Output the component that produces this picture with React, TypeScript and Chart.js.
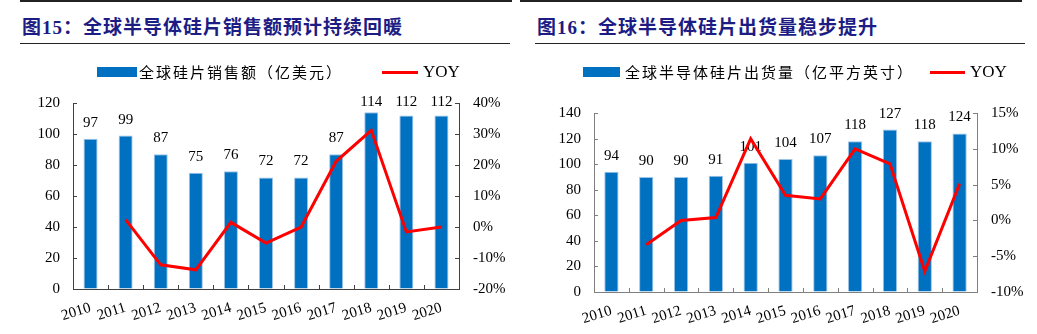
import React, { useEffect, useRef } from "react";
import { Chart, registerables } from "chart.js";

Chart.register(...registerables);

// ---------- data ----------
const YEARS = ["2010", "2011", "2012", "2013", "2014", "2015", "2016", "2017", "2018", "2019", "2020"];

const SALES = [97, 99, 87, 75, 76, 72, 72, 87, 114, 112, 112];
const SALES_YOY = [null, 2.4, -12.2, -13.8, 1.5, -5.2, 0.0, 21.2, 31.2, -1.6, 0.0];

const SHIPMENTS = [94, 90, 90, 91, 101, 104, 107, 118, 127, 118, 124];
const SHIPMENTS_YOY = [null, -3.4, 0.0, 0.4, 11.4, 3.5, 3.0, 10.0, 7.9, -7.1, 5.1];

const SALES_LABEL = "全球硅片销售额（亿美元）";
const SHIPMENTS_LABEL = "全球半导体硅片出货量（亿平方英寸）";
const YOY_LABEL = "YOY";

const TITLE_LEFT = "图15：全球半导体硅片销售额预计持续回暖";
const TITLE_RIGHT = "图16：全球半导体硅片出货量稳步提升";

const BAR_COLOR = "#0070C0";
const BAR_EDGE = "#9DC3E6";
const LINE_COLOR = "#FF0000";
const TITLE_COLOR = "#1c1c84";
const SERIF = "'Liberation Serif', 'Times New Roman', serif";
const CJK = "'Noto Sans CJK SC', sans-serif";

type PanelCfg = {
  bars: number[];
  yoy: (number | null)[];
  yMax: number;
  yStep: number;
  y1Min: number;
  y1Max: number;
  y1Step: number;
  padTop: number;
  xHeight: number;
  yWidth: number;
  y1Width: number;
  axisColor: string;
  barPct: number;
};

const decorPlugin = {
  id: "decor",
  afterDatasetDraw(chart: any, args: any) {
    if (args.index !== 0) return;
    const ctx = chart.ctx;
    const data = chart.data.datasets[0].data as number[];
    ctx.save();
    ctx.font = `15px ${SERIF}`;
    ctx.fillStyle = "#000";
    ctx.textAlign = "center";
    ctx.textBaseline = "alphabetic";
    args.meta.data.forEach((bar: any, i: number) => {
      let y = bar.y - 12;
      y = Math.max(y, chart.chartArea.top + 3);
      ctx.fillText(String(Math.round(data[i])), bar.x, y);
    });
    ctx.restore();
  },
  afterDraw(chart: any, _args: any, opts: any) {
    const ctx = chart.ctx;
    const color = opts.color || "#404040";
    const len = 4;
    ctx.save();
    ctx.strokeStyle = color;
    ctx.lineWidth = 1;
    ctx.beginPath();
    const y = chart.scales.y;
    y.ticks.forEach((t: any) => {
      const p = Math.round(y.getPixelForValue(t.value)) + 0.5;
      ctx.moveTo(y.right, p);
      ctx.lineTo(y.right + len, p);
    });
    const y1 = chart.scales.y1;
    y1.ticks.forEach((t: any) => {
      const p = Math.round(y1.getPixelForValue(t.value)) + 0.5;
      ctx.moveTo(y1.left, p);
      ctx.lineTo(y1.left - len, p);
    });
    const x = chart.scales.x;
    const n = chart.data.labels.length;
    for (let i = 0; i < n - 1; i++) {
      const p = Math.round((x.getPixelForValue(i) + x.getPixelForValue(i + 1)) / 2) + 0.5;
      ctx.moveTo(p, x.top);
      ctx.lineTo(p, x.top - len);
    }
    ctx.stroke();
    ctx.restore();
  },
};

function Panel({ cfg, width, height }: { cfg: PanelCfg; width: number; height: number }) {
  const ref = useRef<HTMLCanvasElement | null>(null);
  useEffect(() => {
    if (!ref.current) return;
    const tickFont = { family: SERIF, size: 15 };
    const chart = new Chart(ref.current, {
      type: "bar",
      data: {
        labels: YEARS,
        datasets: [
          {
            type: "bar",
            label: "bars",
            data: cfg.bars,
            backgroundColor: BAR_COLOR,
            borderColor: BAR_EDGE,
            borderWidth: 1,
            categoryPercentage: 1,
            barPercentage: cfg.barPct,
            yAxisID: "y",
            order: 1,
          },
          {
            type: "line",
            label: "yoy",
            data: cfg.yoy as any,
            borderColor: LINE_COLOR,
            backgroundColor: LINE_COLOR,
            borderWidth: 3,
            pointRadius: 0,
            tension: 0,
            yAxisID: "y1",
            order: 0,
          } as any,
        ],
      },
      options: {
        responsive: false,
        animation: false,
        events: [],
        layout: { padding: { top: cfg.padTop, left: 0, right: 0, bottom: 0 } },
        plugins: {
          legend: { display: false },
          tooltip: { enabled: false },
          decor: { color: cfg.axisColor },
        } as any,
        scales: {
          x: {
            offset: true,
            grid: { display: true, drawOnChartArea: false, drawTicks: false },
            border: { display: true, color: cfg.axisColor, width: 1 },
            ticks: {
              font: tickFont,
              color: "#000",
              minRotation: 17,
              maxRotation: 17,
              padding: 10,
              autoSkip: false,
            },
            afterFit: (s: any) => {
              s.height = cfg.xHeight;
            },
          },
          y: {
            position: "left",
            min: 0,
            max: cfg.yMax,
            grid: { display: true, drawOnChartArea: false, drawTicks: false },
            border: { display: true, color: cfg.axisColor, width: 1 },
            ticks: { stepSize: cfg.yStep, font: tickFont, color: "#000", padding: 13 },
            afterFit: (s: any) => {
              s.width = cfg.yWidth;
            },
          },
          y1: {
            position: "right",
            min: cfg.y1Min,
            max: cfg.y1Max,
            grid: { display: true, drawOnChartArea: false, drawTicks: false },
            border: { display: true, color: cfg.axisColor, width: 1 },
            ticks: {
              stepSize: cfg.y1Step,
              font: tickFont,
              color: "#000",
              padding: 14,
              callback: (v: any) => `${v}%`,
            },
            afterFit: (s: any) => {
              s.width = cfg.y1Width;
            },
          },
        },
      } as any,
      plugins: [decorPlugin as any],
    });
    return () => chart.destroy();
  }, [cfg]);
  return <canvas ref={ref} width={width} height={height} style={{ display: "block", width, height }} />;
}

const LEFT_CFG: PanelCfg = {
  bars: SALES,
  yoy: SALES_YOY,
  yMax: 120,
  yStep: 20,
  y1Min: -20,
  y1Max: 40,
  y1Step: 10,
  padTop: 23,
  xHeight: 45,
  yWidth: 73,
  y1Width: 59,
  axisColor: "#404040",
  barPct: 0.4,
};

const RIGHT_CFG: PanelCfg = {
  bars: SHIPMENTS,
  yoy: SHIPMENTS_YOY,
  yMax: 140,
  yStep: 20,
  y1Min: -10,
  y1Max: 15,
  y1Step: 5,
  padTop: 33,
  xHeight: 42,
  yWidth: 76,
  y1Width: 60,
  axisColor: "#7f7f7f",
  barPct: 0.41,
};

function Abs({ style, children }: { style: React.CSSProperties; children?: React.ReactNode }) {
  return <div style={{ position: "absolute", ...style }}>{children}</div>;
}

export default function App() {
  return (
    <div style={{ position: "absolute", left: 0, top: 0, width: 1037, height: 334, background: "#fff", overflow: "hidden" }}>
      {/* rules */}
      <Abs style={{ left: 20, top: 0, width: 492, height: 2, background: "#222" }} />
      <Abs style={{ left: 20, top: 43, width: 490, height: 1, background: "#222" }} />
      <Abs style={{ left: 520, top: 0, width: 502, height: 2, background: "#222" }} />
      <Abs style={{ left: 535, top: 43, width: 490, height: 1, background: "#222" }} />
      {/* titles */}
      <Abs style={{ left: 22, top: 16, fontFamily: `${SERIF}, ${CJK}`, fontWeight: 700, fontSize: 19, lineHeight: "24px", color: TITLE_COLOR, letterSpacing: 1, whiteSpace: "nowrap" }}>
        {TITLE_LEFT}
      </Abs>
      <Abs style={{ left: 537, top: 16, fontFamily: `${SERIF}, ${CJK}`, fontWeight: 700, fontSize: 19, lineHeight: "24px", color: TITLE_COLOR, letterSpacing: 1, whiteSpace: "nowrap" }}>
        {TITLE_RIGHT}
      </Abs>
      {/* charts */}
      <Abs style={{ left: 0, top: 80, width: 518, height: 254 }}>
        <Panel cfg={LEFT_CFG} width={518} height={254} />
      </Abs>
      <Abs style={{ left: 518, top: 80, width: 519, height: 254 }}>
        <Panel cfg={RIGHT_CFG} width={519} height={254} />
      </Abs>
      {/* legends */}
      <Abs style={{ left: 97, top: 67, width: 40, height: 10, background: BAR_COLOR }} />
      <Abs style={{ left: 139, top: 62, fontFamily: CJK, fontSize: 15, lineHeight: "20px", letterSpacing: 2, color: "#000", whiteSpace: "nowrap" }}>
        {SALES_LABEL}
      </Abs>
      <Abs style={{ left: 382, top: 71, width: 36, height: 3, background: LINE_COLOR }} />
      <Abs style={{ left: 423, top: 62, fontFamily: SERIF, fontSize: 17, lineHeight: "20px", color: "#000", whiteSpace: "nowrap" }}>
        {YOY_LABEL}
      </Abs>

      <Abs style={{ left: 583, top: 67, width: 37, height: 10, background: BAR_COLOR }} />
      <Abs style={{ left: 625, top: 62, fontFamily: CJK, fontSize: 15, lineHeight: "20px", letterSpacing: 2, color: "#000", whiteSpace: "nowrap" }}>
        {SHIPMENTS_LABEL}
      </Abs>
      <Abs style={{ left: 930, top: 71, width: 35, height: 3, background: LINE_COLOR }} />
      <Abs style={{ left: 970, top: 62, fontFamily: SERIF, fontSize: 17, lineHeight: "20px", color: "#000", whiteSpace: "nowrap" }}>
        {YOY_LABEL}
      </Abs>
    </div>
  );
}
